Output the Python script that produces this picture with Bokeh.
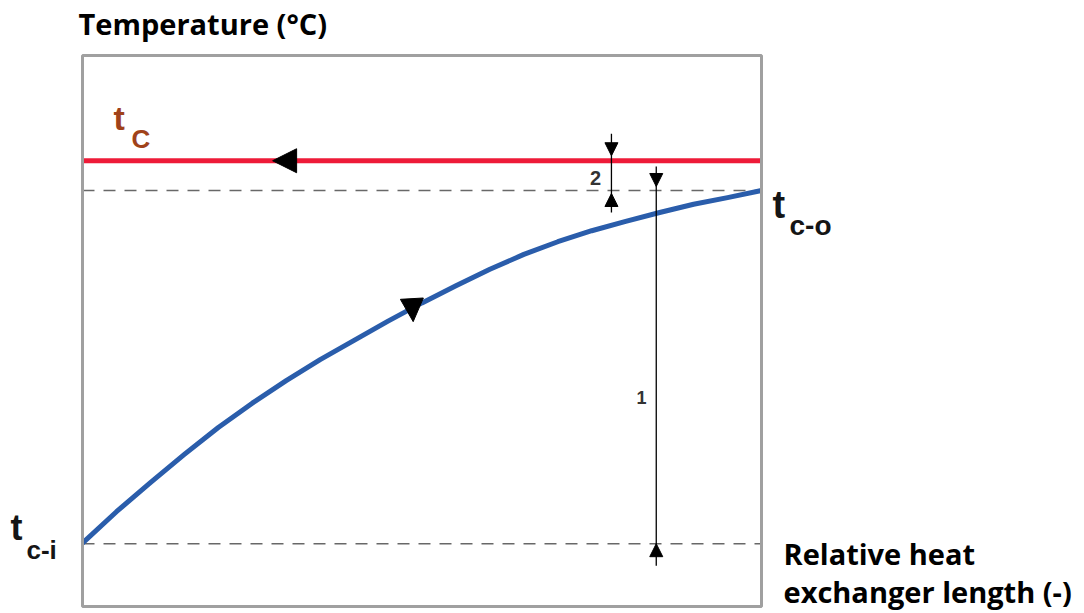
from bokeh.plotting import figure
from bokeh.models import Label, Arrow, NormalHead, Range1d, BoxAnnotation
from bokeh.embed import file_html
from bokeh.resources import INLINE
import numpy as np

# ---- data (normalised temperature vs relative length) ----
rel_length = [0.00, 0.05, 0.10, 0.15, 0.20, 0.25, 0.30, 0.35, 0.40, 0.45, 0.50,
              0.55, 0.60, 0.65, 0.70, 0.75, 0.80, 0.85, 0.90, 0.95, 1.00]
cold_temp = [0.115, 0.172, 0.225, 0.276, 0.325, 0.369, 0.410, 0.448, 0.483, 0.518, 0.551,
             0.582, 0.612, 0.639, 0.662, 0.682, 0.699, 0.715, 0.730, 0.742, 0.755]
hot_x = [0.0, 1.0]
hot_temp = [0.809, 0.809]
t_ci = 0.114
t_co = cold_temp[-1]
t_hot = hot_temp[0]
flow_arrow_x_hot = 0.28
flow_arrow_x_cold = 0.487
dim1_x = 0.845
dim2_x = 0.779

# ---- layout: the chart box (0..1 x 0..1) sits at these pixel bounds of the canvas ----
W, H = 1084, 613
BOX_L, BOX_R, BOX_T, BOX_B = 82, 761, 55, 606
sx = 1.0 / (BOX_R - BOX_L)
sy = 1.0 / (BOX_B - BOX_T)
PX = sy

p = figure(width=W, height=H, output_backend="svg", toolbar_location=None,
           x_range=Range1d((0 - BOX_L) * sx, (W - BOX_L) * sx),
           y_range=Range1d((BOX_B - H) * sy, BOX_B * sy),
           x_axis_type=None, y_axis_type=None,
           min_border=0)
p.grid.visible = False
p.outline_line_color = None
p.background_fill_color = "white"
p.border_fill_color = "white"

# chart box
p.add_layout(BoxAnnotation(left=0, right=1, bottom=0, top=1, fill_alpha=0,
                           line_color="#a0a0a0", line_alpha=1, line_width=3))

# dashed reference lines
p.line([0, 1], [t_co, t_co], line_color="#686868", line_width=1.6, line_dash="12 9")
p.line([0, 1], [t_ci, t_ci], line_color="#686868", line_width=1.6, line_dash="12 9")

# hot (condensing) line
p.line(hot_x, hot_temp, line_color="#EE1B38", line_width=5)
# cold stream curve
p.line(rel_length, cold_temp, line_color="#2A5DAB", line_width=5, line_join="round")

# flow direction arrowheads
head = dict(fill_color="black", line_color="black")
p.add_layout(Arrow(x_start=flow_arrow_x_hot + 0.02, y_start=t_hot, x_end=flow_arrow_x_hot, y_end=t_hot,
                   line_alpha=0, end=NormalHead(size=24, **head)))
yc = float(np.interp(flow_arrow_x_cold, rel_length, cold_temp))
p.add_layout(Arrow(x_start=flow_arrow_x_cold - 0.002, y_start=yc + 10 * PX,
                   x_end=flow_arrow_x_cold, y_end=yc - 14 * PX,
                   line_alpha=0, end=NormalHead(size=23, **head)))

# dimension 2 (t_C - t_c-o)
p.segment(x0=[dim2_x], y0=[t_hot + 27 * PX], x1=[dim2_x], y1=[t_co - 22 * PX], line_color="black", line_width=1.3)
p.add_layout(Arrow(x_start=dim2_x, y_start=t_hot + 20 * PX, x_end=dim2_x, y_end=t_hot + 5 * PX,
                   line_alpha=0, end=NormalHead(size=13, **head)))
p.add_layout(Arrow(x_start=dim2_x, y_start=t_co - 20 * PX, x_end=dim2_x, y_end=t_co - 3 * PX,
                   line_alpha=0, end=NormalHead(size=13, **head)))
# dimension 1 (t_c-o - t_c-i)
p.segment(x0=[dim1_x], y0=[t_co + 24 * PX], x1=[dim1_x], y1=[t_ci - 22 * PX], line_color="black", line_width=1.3)
p.add_layout(Arrow(x_start=dim1_x, y_start=t_co + 20 * PX, x_end=dim1_x, y_end=t_co + 4 * PX,
                   line_alpha=0, end=NormalHead(size=13, **head)))
p.add_layout(Arrow(x_start=dim1_x, y_start=t_ci - 20 * PX, x_end=dim1_x, y_end=t_ci,
                   line_alpha=0, end=NormalHead(size=13, **head)))

def lab(px, py, text, size, color="black", font="Open Sans", style="bold", align="left"):
    # py is the vertical centre of the text
    p.add_layout(Label(x=(px - BOX_L) * sx, y=(BOX_B - py) * sy, text=text, text_font=font,
                       text_font_size=f"{size}px", text_font_style=style, text_color=color,
                       text_align=align, text_baseline="middle"))

# dimension numbers
lab(595, 177, "2", 20, color="#333333", font="Liberation Sans", align="center")
lab(641, 397, "1", 18, color="#333333", font="Liberation Sans", align="center")

# axis titles
lab(78, 23, "Temperature (°C)", 29)
lab(783, 553, "Relative heat", 29)
lab(783, 591, "exchanger length (-)", 29)

# temperature symbols
lab(113, 117, "t", 34, color="#A0421A", font="Liberation Sans")
lab(131, 138, "C", 26, color="#A0421A", font="Liberation Sans")
lab(772, 204, "t", 38, color="#151515", font="Liberation Sans")
lab(789, 225, "c-o", 28, color="#151515", font="Liberation Sans")
lab(10, 527, "t", 36, color="#151515", font="Liberation Sans")
lab(26, 549, "c-i", 26, color="#151515", font="Liberation Sans")

open("out.html", "w").write(file_html(p, INLINE))
